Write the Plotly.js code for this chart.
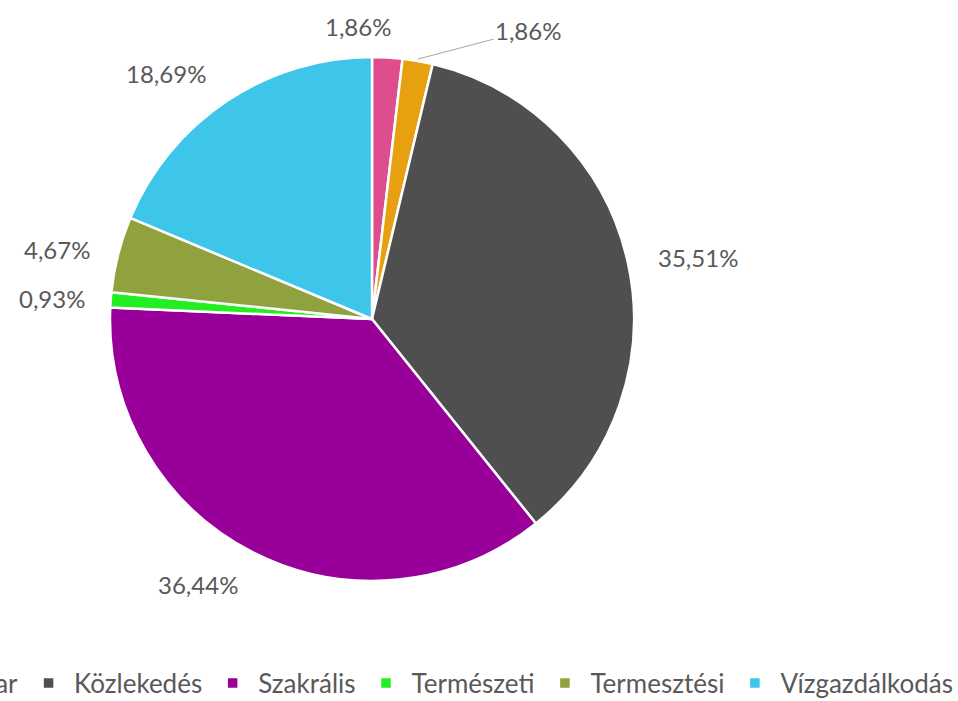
<!DOCTYPE html>
<html><head><meta charset="utf-8">
<script src="https://cdn.plot.ly/plotly-3.0.1.min.js"></script>
<style>
html,body{margin:0;padding:0;overflow:hidden;background:#fff;width:958px;height:701px}
#chart{position:absolute;left:-342px;top:0;width:1300px;height:701px}
</style>
</head><body><div id="chart"></div>
<script>
// ---- data ----
const categories = ['Egyéb', 'Ipar', 'Közlekedés', 'Szakrális', 'Természeti', 'Termesztési', 'Vízgazdálkodás'];
const shares = [1.86, 1.86, 35.51, 36.44, 0.93, 4.67, 18.69];

// ---- style ----
const colors = ['#DE4E8C', '#E6A010', '#4F4F4F', '#990099', '#22EE22', '#8FA23E', '#3DC6EA'];
const OX = 342;            // hidden strip on the left (page shifted)
const W = 1300, H = 701;
const CX = 372 + OX, CY = 319, R = 262;
// label nudges in pixels from a base ring at 1.22*R
const nudges = [[-33, 30], [0, 0], [12, 10], [-28, -21], [1, 4], [-3, 11], [-28, 24]];
const leader = [false, true, false, false, false, false, false];
const leaderOffset = [110, -29];

const total = shares.reduce((a, b) => a + b, 0);
const fmt = v => v.toFixed(2).replace('.', ',') + '%';
const labelFont = {family: 'Lato, "Open Sans", sans-serif', size: 24, color: '#595959'};

const annotations = [];
let cum = 0;
shares.forEach((v, i) => {
  const mid = (cum + v / 2) / total * 2 * Math.PI;
  cum += v;
  const sx = Math.sin(mid), cy = Math.cos(mid);
  if (leader[i]) {
    const tx = CX + (R + 2) * sx, ty = CY - (R + 2) * cy;
    annotations.push({
      xref: 'paper', yref: 'paper', x: tx / W, y: 1 - ty / H,
      text: fmt(v), font: labelFont, showarrow: true, arrowhead: 0, arrowwidth: 1,
      arrowcolor: '#A6A6A6', standoff: 0, ax: leaderOffset[0], ay: leaderOffset[1],
      xanchor: 'center', yanchor: 'middle'
    });
  } else {
    const px = CX + 1.22 * 264 * sx + nudges[i][0];
    const py = CY - 1 - 1.22 * 264 * cy + nudges[i][1];
    annotations.push({
      xref: 'paper', yref: 'paper', x: px / W, y: 1 - py / H,
      text: fmt(v), font: labelFont, showarrow: false,
      xanchor: 'center', yanchor: 'middle'
    });
  }
});

const trace = {
  type: 'pie',
  labels: categories,
  values: shares,
  sort: false,
  direction: 'clockwise',
  rotation: 0,
  textinfo: 'none',
  hoverinfo: 'label+value',
  marker: {colors: colors, line: {color: '#FFFFFF', width: 2.5}},
  domain: {x: [(CX - R) / W, (CX + R) / W], y: [1 - (CY + R) / H, 1 - (CY - R) / H]}
};

const layout = {
  width: W, height: H,
  margin: {l: 0, r: 0, t: 0, b: 0, autoexpand: false},
  paper_bgcolor: '#FFFFFF',
  showlegend: true,
  legend: {
    orientation: 'h', x: 1.0, xanchor: 'right', y: (H - 683) / H, yanchor: 'middle',
    font: {family: 'Lato, "Open Sans", sans-serif', size: 26, color: '#595959'},
    itemwidth: 41,
    traceorder: 'normal', itemclick: false
  },
  annotations: annotations
};

Plotly.newPlot('chart', [trace], layout, {displayModeBar: false, staticPlot: true});
</script>
</body></html>
